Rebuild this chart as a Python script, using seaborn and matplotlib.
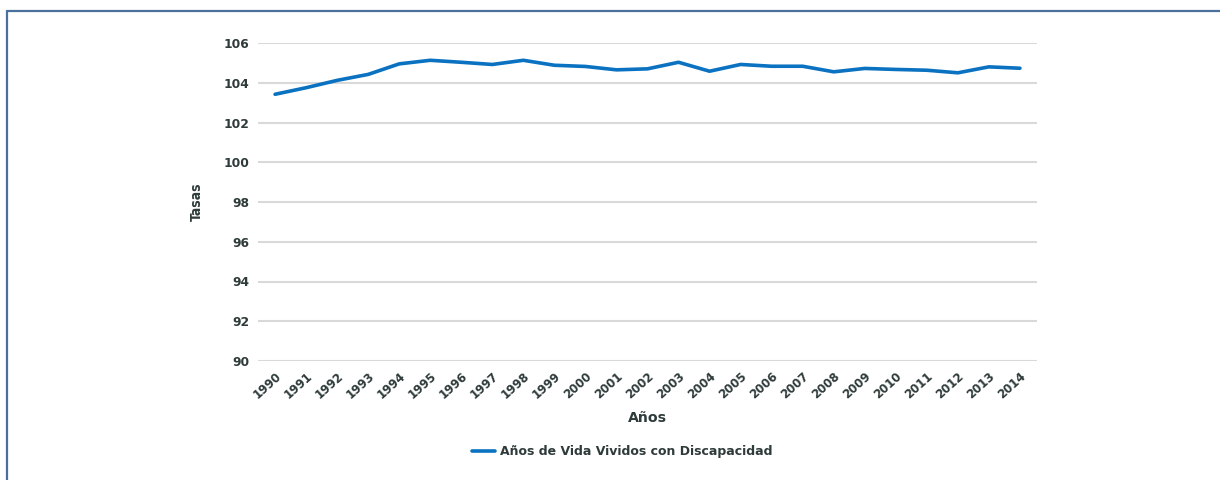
import matplotlib
matplotlib.use("Agg")
import matplotlib.pyplot as plt
import seaborn as sns
import pandas as pd
from matplotlib.lines import Line2D

years = list(range(1990, 2015))
values = [103.42, 103.75, 104.12, 104.42, 104.95, 105.13, 105.03, 104.92, 105.13,
          104.88, 104.82, 104.65, 104.70, 105.03, 104.58, 104.92, 104.83, 104.83,
          104.55, 104.72, 104.67, 104.63, 104.50, 104.80, 104.73]
series_name = "Años de Vida Vividos con Discapacidad"
y_ticks = [90, 92, 94, 96, 98, 100, 102, 104, 106]

sns.set_theme(style="white")
plt.rcParams['font.family'] = ['DejaVu Sans']

text_color = "#2f3a3a"
line_color = "#0a72c0"

df = pd.DataFrame({"Año": years, "Tasa": values, "Serie": series_name})

fig = plt.figure(figsize=(12.2, 4.8), dpi=100)
ax = fig.add_axes([258/1220, 1 - 361/480, (1037-258)/1220, (361-43)/480])

sns.lineplot(data=df, x="Año", y="Tasa", ax=ax, color=line_color, linewidth=2.6,
             legend=False)

ax.set_ylim(90, 106)
ax.set_xlim(1989.45, 2014.55)
ax.set_yticks(y_ticks)
ax.set_xticks(years)
ax.set_xticklabels([str(y) for y in years], rotation=42, ha="right",
                   rotation_mode="anchor", fontsize=8.5, fontweight="bold",
                   color=text_color)
ax.set_yticklabels([str(v) for v in y_ticks], fontsize=8.8, fontweight="bold",
                   color=text_color)
ax.tick_params(axis="y", length=0, pad=6)
ax.tick_params(axis="x", length=0, pad=6)

ax.grid(axis="y", color="#d9d9d9", linewidth=1.5)
ax.grid(axis="x", visible=False)
for s in ax.spines.values():
    s.set_visible(False)

ax.set_xlabel("Años", fontsize=10.2, fontweight="bold", color=text_color, labelpad=7)
ax.set_ylabel("Tasas", fontsize=10, fontweight="bold", color=text_color, labelpad=14,
              fontstretch="condensed")

handle = Line2D([0], [0], color=line_color, linewidth=2.6)
leg = fig.legend([handle], [series_name], loc="center",
                 bbox_to_anchor=(622/1220, 1 - 452/480),
                 frameon=False, handlelength=1.8, handletextpad=0.4,
                 prop={"weight": "bold", "size": 9})
for t in leg.get_texts():
    t.set_color(text_color)

# figure border (left and top)
border_color = "#4a719c"
fig.add_artist(Line2D([7/1220, 7/1220], [0, 1 - 11/480], transform=fig.transFigure,
                      color=border_color, linewidth=1.6))
fig.add_artist(Line2D([7/1220, 1], [1 - 11/480, 1 - 11/480], transform=fig.transFigure,
                      color=border_color, linewidth=1.6))

fig.savefig("out.png", dpi=100)
